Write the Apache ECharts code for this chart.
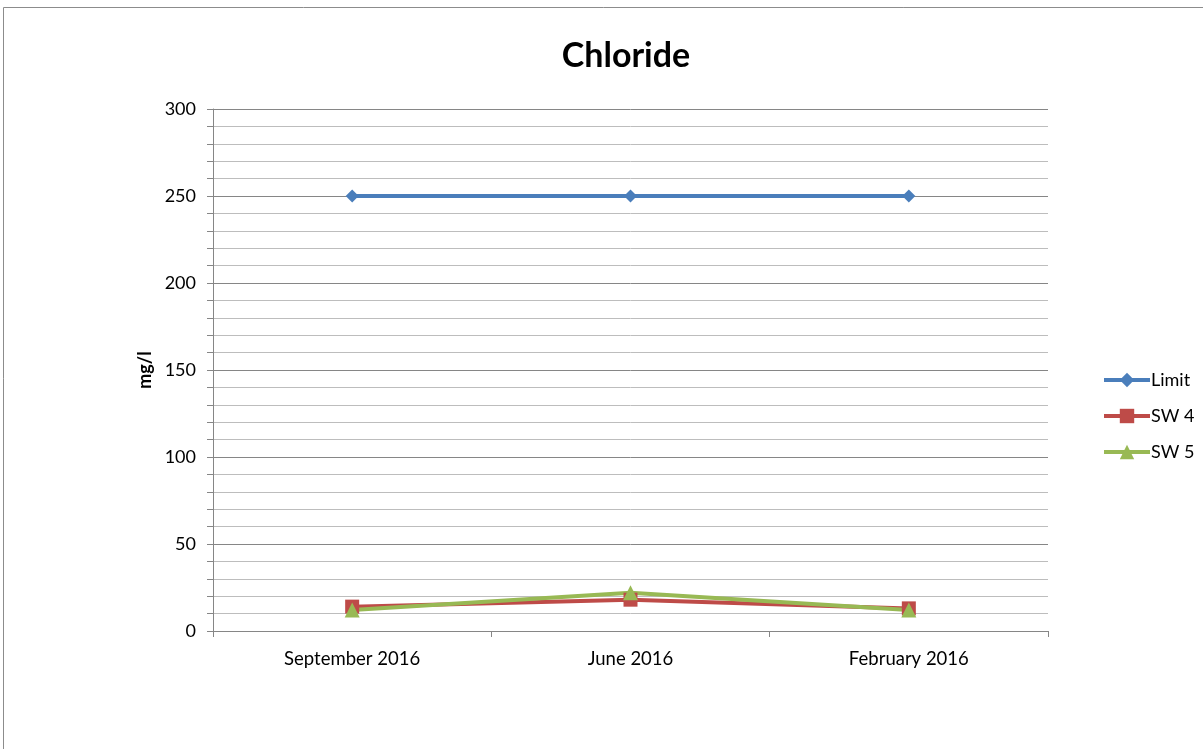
<!DOCTYPE html>
<html>
<head>
<meta charset="utf-8">
<script src="https://cdn.jsdelivr.net/npm/echarts@6/dist/echarts.min.js"></script>
<style>
  html, body { margin: 0; padding: 0; background: #fff; }
  #chart { width: 1203px; height: 749px; }
</style>
</head>
<body>
<div id="chart"></div>
<script>
// sampling dates (x axis)
const categories = ['September 2016', 'June 2016', 'February 2016'];

// chloride values, mg/l
const limitValues = [250, 250, 250];
const sw4Values = [14, 18, 13];
const sw5Values = [12, 22, 12];

const yTicks = { min: 0, max: 300, step: 50 };

const chart = echarts.init(document.getElementById('chart'));

const font = 'Lato, Open Sans, sans-serif';

const option = {
  animation: false,
  textStyle: { fontFamily: font },
  graphic: [
    {
      type: 'rect',
      shape: { x: 3.5, y: 7.5, width: 1260, height: 800 },
      style: { fill: 'none', stroke: '#8c8c8c', lineWidth: 1 },
      silent: true
    }
  ],
  title: {
    text: 'Chloride',
    left: 621,
    top: 34,
    textAlign: 'center',
    textStyle: { fontFamily: font, fontSize: 34, fontWeight: 'bold', color: '#000' }
  },
  legend: {
    orient: 'vertical',
    left: 1097,
    top: 366,
    itemWidth: 46,
    itemHeight: 18,
    itemGap: 18,
    lineStyle: { width: 4 },
    textStyle: { fontFamily: font, fontSize: 18, color: '#000', padding: [0, 0, 0, -4] },
    data: ['Limit', 'SW 4', 'SW 5']
  },
  grid: { left: 213, right: 155, top: 109, bottom: 118 },
  xAxis: {
    type: 'category',
    data: categories,
    boundaryGap: true,
    axisLine: { lineStyle: { color: '#868686', width: 1 } },
    axisTick: { show: true, length: 6, lineStyle: { color: '#868686' } },
    axisLabel: { color: '#000', fontSize: 18.5, margin: 19, fontFamily: font },
    splitLine: { show: false }
  },
  yAxis: {
    type: 'value',
    min: yTicks.min,
    max: yTicks.max,
    interval: yTicks.step,
    name: 'mg/l',
    nameLocation: 'middle',
    nameGap: 58,
    nameRotate: 90,
    nameTextStyle: { fontFamily: font, fontSize: 18, fontWeight: 'bold', color: '#000' },
    axisLine: { show: true, lineStyle: { color: '#868686', width: 1 } },
    axisTick: { show: true, length: 6, lineStyle: { color: '#868686' } },
    minorTick: { show: true, splitNumber: 5, length: 6, lineStyle: { color: '#868686' } },
    axisLabel: { color: '#000', fontSize: 18, margin: 17, fontFamily: font },
    splitLine: { show: true, lineStyle: { color: '#868686', width: 1 } },
    minorSplitLine: { show: true, lineStyle: { color: '#bdbdbd', width: 1 } }
  },
  series: [
    {
      name: 'Limit',
      type: 'line',
      data: limitValues,
      symbol: 'diamond',
      symbolSize: 13,
      itemStyle: { color: '#4a7ebb' },
      lineStyle: { color: '#4a7ebb', width: 4 }
    },
    {
      name: 'SW 4',
      type: 'line',
      data: sw4Values,
      symbol: 'rect',
      symbolSize: 14,
      itemStyle: { color: '#be4b48' },
      lineStyle: { color: '#be4b48', width: 4 }
    },
    {
      name: 'SW 5',
      type: 'line',
      data: sw5Values,
      symbol: 'triangle',
      symbolSize: 15,
      itemStyle: { color: '#98b954' },
      lineStyle: { color: '#98b954', width: 4 }
    }
  ]
};

chart.setOption(option);
</script>
</body>
</html>
